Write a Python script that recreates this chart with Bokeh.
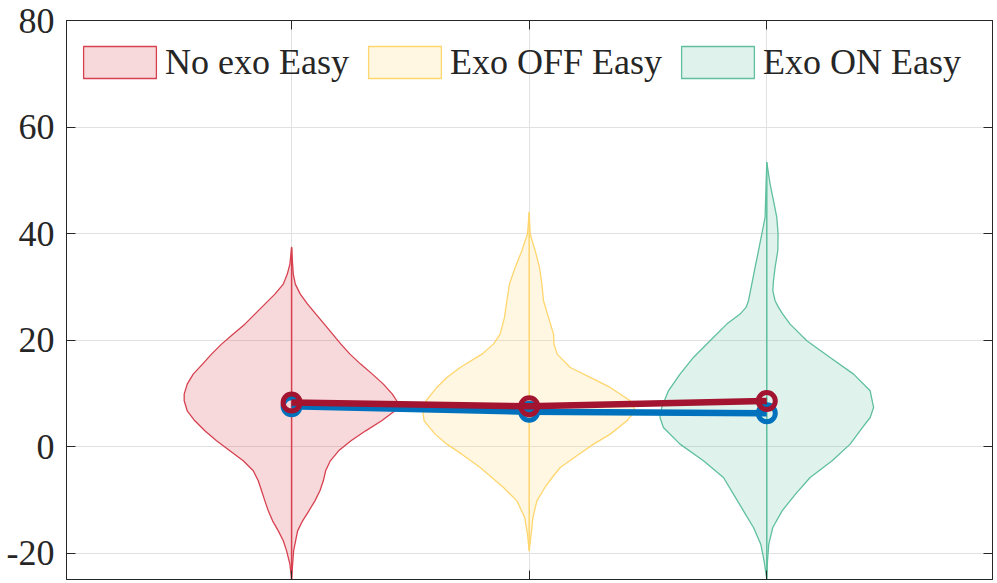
import numpy as np
from bokeh.plotting import figure
from bokeh.models import FixedTicker, LinearAxis, Range1d, Legend, LegendItem
from bokeh.embed import file_html
from bokeh.resources import INLINE

# ---------------- data ----------------
groups = ["No exo Easy", "Exo OFF Easy", "Exo ON Easy"]
positions = [1, 2, 3]
edge_colors = ["#D7404F", "#FFD66E", "#5FBF9E"]

# violin 1 (No exo Easy): value grid, left-half density, right-half density
v1_y = [37.42, 34.29, 32.41, 30.53, 28.66, 26.78, 24.90, 23.02, 21.15, 19.27, 17.39, 15.52, 13.64,
        11.76, 9.89, 8.64, 6.76, 4.88, 3.00, 1.13, -0.75, -2.63, -4.50, -6.38, -8.26, -10.14,
        -12.01, -13.89, -15.77, -17.64, -19.52, -22.02, -24.9]
v1_left = [0, 1.7, 4.3, 8.3, 16.7, 26.7, 36.7, 46.7, 58.3, 70, 80, 89, 98.3, 104.3, 107.3, 107.3,
           104.3, 96.7, 86.7, 75, 61.7, 48.3, 38.3, 33.3, 30, 26.7, 23.3, 19, 13.3, 8.3, 5, 1.7, 0]
v1_right = [0, 1, 1.7, 3.7, 8.7, 16, 24.3, 32.7, 41, 49.3, 58.3, 69, 80.7, 91.7, 100.7, 105, 103.3,
            90, 74, 59.3, 47, 38.7, 34, 31.7, 28.3, 23.3, 17.3, 11, 6, 4, 2, 1, 0]

# violin 2 (Exo OFF Easy)
v2_y = [44.0, 39.92, 36.8, 33.67, 30.54, 27.41, 24.28, 21.15, 19.27, 17.39, 14.89, 13.02, 11.14,
        8.64, 6.76, 4.88, 2.38, 0.50, -1.38, -3.88, -5.76, -7.63, -10.14, -13.27, -16.4, -19.52]
v2_left = [0, 1.7, 7.3, 14, 19.7, 22.3, 24.7, 29, 35.7, 47.3, 69, 82.3, 92.3, 103, 106.3, 105, 94,
           82.3, 67.3, 49, 37.3, 25.7, 12.3, 4.5, 1.7, 0]
v2_right = [0, 1, 6, 10.3, 12.7, 14.3, 19.3, 24.3, 24.8, 28, 41, 61, 81, 101, 106, 97.7, 81, 64.3,
            49.7, 31, 23, 15.7, 7.7, 3.7, 2, 0]

# violin 3 (Exo ON Easy)
v3_y = [53.38, 49.3, 46.2, 43.05, 39.92, 36.8, 33.67, 31.17, 29.29, 27.41, 26.16, 24.91, 23.03,
        19.9, 16.77, 13.64, 10.51, 7.38, 5.5, 3.63, 0.5, -2.63, -5.76, -8.89, -12.01, -15.14,
        -18.27, -21.4, -24.84]
v3_left = [0, 0.7, 1.2, 1.7, 5, 8.3, 11.7, 14.3, 16.3, 18.3, 20.7, 26.7, 40, 56.7, 73.3, 86.7, 98.3,
           105, 106.7, 103.3, 86.7, 63.3, 43.3, 33.3, 23.3, 13.3, 6, 2.7, 0]
v3_right = [0, 3.3, 6.7, 10, 11.3, 11, 8.3, 6.7, 6, 8.3, 11.7, 16, 23.3, 40, 63.3, 86.7, 103.3,
            106.7, 103.3, 95.7, 83.3, 65.3, 43.3, 28.7, 15.3, 6, 2, 0.7, 0]

# summary lines
mean_vals = [7.6, 6.6, 6.3]      # blue
median_vals = [8.3, 7.6, 8.6]    # dark red

y_ticks = [-20, 0, 20, 40, 60, 80]

violins = [(v1_y, v1_left, v1_right), (v2_y, v2_left, v2_right), (v3_y, v3_left, v3_right)]

# ---------------- figure ----------------
FONT = "Liberation Serif"
AX = "#262626"
p = figure(width=997, height=583, output_backend="svg", toolbar_location=None,
           x_range=Range1d(0.0526, 3.95), y_range=Range1d(-24.9, 80))
p.min_border_left = 66
p.min_border_right = 5
p.min_border_top = 20
p.min_border_bottom = 4
p.outline_line_color = AX
p.outline_line_width = 1
p.background_fill_color = "white"

dmax = max(max(v1_left), max(v1_right), max(v2_left), max(v2_right), max(v3_left), max(v3_right))
half_w = 0.452

renderers = []
for (yy, ll, rr), c, col in zip(violins, positions, edge_colors):
    yy = np.array(yy, float)
    ll = np.array(ll, float) / dmax * half_w
    rr = np.array(rr, float) / dmax * half_w
    xs = np.concatenate([c - ll, (c + rr)[::-1]])
    ys = np.concatenate([yy, yy[::-1]])
    r = p.patch(xs, ys, fill_color=col, fill_alpha=0.2, line_color=col, line_width=1.3,
                line_join="round")
    renderers.append(r)
    p.line([c, c], [yy.min(), yy.max()], line_color=col, line_width=1.5)

p.line(positions, mean_vals, line_color="#0072BD", line_width=6.5)
p.scatter(positions, mean_vals, marker="circle", size=17, fill_color=None,
          line_color="#0072BD", line_width=5)
p.line(positions, median_vals, line_color="#A2142F", line_width=6.5)
p.scatter(positions, median_vals, marker="circle", size=17, fill_color=None,
          line_color="#A2142F", line_width=5)

# axes
p.xaxis.ticker = FixedTicker(ticks=positions)
p.xaxis.major_label_text_font_size = "1px"
p.xaxis.major_label_text_color = None
p.xaxis.major_label_standoff = 0
p.yaxis.ticker = FixedTicker(ticks=y_ticks)
p.yaxis.major_label_overrides = {t: str(t) for t in y_ticks}
p.yaxis.major_label_text_font = FONT
p.yaxis.major_label_text_font_size = "36px"
p.yaxis.major_label_text_color = AX
p.yaxis.major_label_standoff = 12
for ax in [p.xaxis[0], p.yaxis[0]]:
    ax.major_tick_in = 9
    ax.major_tick_out = 0
    ax.minor_tick_line_color = None
    ax.axis_line_color = AX
    ax.major_tick_line_color = AX

top = LinearAxis(ticker=FixedTicker(ticks=positions), major_label_text_font_size="1px",
                 major_label_text_color=None,
                 major_label_standoff=0, major_tick_in=9, major_tick_out=0,
                 minor_tick_line_color=None, axis_line_color=AX, major_tick_line_color=AX)
right = LinearAxis(ticker=FixedTicker(ticks=y_ticks), major_label_text_font_size="1px",
                   major_label_text_color=None,
                   major_label_standoff=0, major_tick_in=9, major_tick_out=0,
                   minor_tick_line_color=None, axis_line_color=AX, major_tick_line_color=AX)
p.add_layout(top, "above")
p.add_layout(right, "right")

p.xgrid.ticker = FixedTicker(ticks=positions)
p.ygrid.ticker = FixedTicker(ticks=y_ticks)
for g in [p.xgrid[0], p.ygrid[0]]:
    g.grid_line_color = "#e1e1e1"
    g.grid_line_width = 1

legend = Legend(items=[LegendItem(label=g, renderers=[r]) for g, r in zip(groups, renderers)],
                orientation="horizontal", location=(8, 496), margin=0, padding=0,
                spacing=10, label_standoff=0, glyph_width=91, glyph_height=40,
                label_text_font=FONT, label_text_font_size="36px", label_text_color=AX,
                border_line_color=None, background_fill_alpha=0)
p.add_layout(legend)

open("out.html", "w").write(file_html(p, INLINE))
